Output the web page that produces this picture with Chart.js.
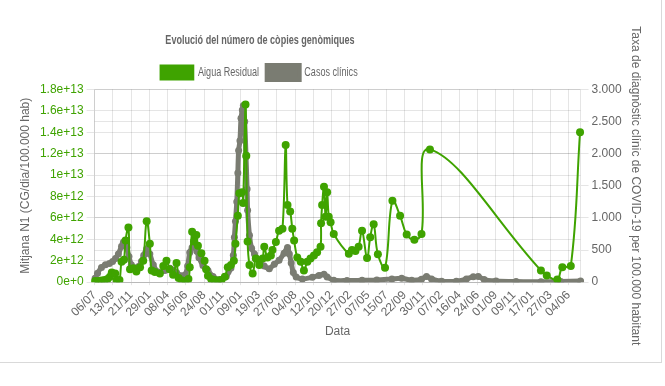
<!DOCTYPE html>
<html>
<head>
<meta charset="utf-8">
<script src="https://cdn.jsdelivr.net/npm/chart.js@4"></script>
<style>
  html, body { margin: 0; padding: 0; background: #fff; }
  #wrap { width: 661px; height: 362px; border-right: 1px solid #d9d9d9; border-bottom: 1px solid #d9d9d9; position: relative; }
</style>
</head>
<body>
<div id="wrap"><canvas id="c"></canvas></div>
<script>
// ---- Data ----
const firstDay = '2020-07-06';
const lastDay = '2025-07-19';
const tickEveryDays = 69;

// Wastewater: mean N1 (units of 1e12 genomic copies / day / 100.000 hab)
const wasteDates = [
  '2020-07-08','2020-07-21','2020-08-01','2020-08-13','2020-08-24','2020-09-02','2020-09-09','2020-09-22','2020-09-27','2020-10-08',
  '2020-10-16','2020-10-25','2020-10-31','2020-11-11','2020-11-17','2020-11-30','2020-12-11','2020-12-25','2021-01-06','2021-01-19',
  '2021-01-31','2021-02-07','2021-02-19','2021-03-10','2021-03-23','2021-04-04','2021-04-16','2021-04-29','2021-05-12','2021-05-20',
  '2021-06-02','2021-06-15','2021-06-26','2021-07-01','2021-07-10','2021-07-17','2021-07-26','2021-08-01','2021-08-14','2021-08-26',
  '2021-09-01','2021-09-08','2021-09-20','2021-10-02','2021-10-15','2021-10-29','2021-11-11','2021-11-22','2021-12-04','2021-12-15',
  '2021-12-21','2021-12-30','2022-01-05','2022-01-15','2022-01-19','2022-01-28','2022-01-31','2022-02-05','2022-02-12','2022-02-24',
  '2022-03-08','2022-03-21','2022-04-03','2022-04-09','2022-04-21','2022-05-04','2022-05-10','2022-05-23','2022-06-04','2022-06-17',
  '2022-06-29','2022-07-06','2022-07-16','2022-07-24','2022-07-31','2022-08-12','2022-08-25','2022-09-06','2022-09-19','2022-10-01',
  '2022-10-14','2022-10-26','2022-11-08','2022-11-10','2022-11-14','2022-11-21','2022-11-27','2022-12-03','2022-12-09','2022-12-16',
  '2022-12-28','2023-02-23','2023-03-07','2023-03-20','2023-04-01','2023-04-14','2023-05-03','2023-05-15','2023-05-28','2023-06-13',
  '2023-07-10','2023-08-07','2023-09-05','2023-09-30','2023-10-29','2023-11-25','2023-12-27','2025-02-19','2025-03-13','2025-04-22',
  '2025-05-11','2025-06-12','2025-07-17'
];
const wasteValues = [
  0.1, 0.1, 0.15, 0.2, 0.3, 0.5, 0.9, 0.8, 0.2, 0.2,
  1.9, 2.1, 3.9, 5.1, 1.2, 1.3, 1.0, 1.4, 2.0, 5.7,
  3.6, 1.1, 0.95, 0.8, 1.5, 2.0, 1.2, 0.7, 1.8, 0.4,
  0.15, 0.1, 0.3, 1.4, 4.7, 3.8, 4.4, 3.4, 2.7, 2.0,
  1.2, 0.6, 0.3, 0.2, 0.15, 0.2, 0.5, 1.4, 1.6, 2.0,
  3.6, 6.2, 8.3, 8.4, 7.4, 16.6, 11.8, 3.8, 1.6, 0.8,
  2.2, 1.6, 2.2, 3.3, 2.3, 2.5, 3.0, 3.75, 4.8, 5.0,
  12.8, 7.2, 6.6, 5.0, 3.9, 2.3, 1.9, 1.1, 1.9, 2.2,
  2.5, 2.8, 3.3, 5.5, 7.2, 8.9, 6.1, 8.4, 6.1, 5.6,
  4.5, 2.65, 3.0, 2.9, 3.3, 4.8, 2.25, 4.2, 5.4, 2.6,
  1.35, 7.6, 6.2, 4.45, 3.97, 4.5, 12.4, 1.1, 0.63, 0.25,
  1.4, 1.5, 14.0
];
const wasteUnit = 1e12;

// Clinical cases: diagnosis rate per 100.000 inhabitants
const caseDates = [
  '2020-07-08','2020-07-17','2020-08-01','2020-08-16','2020-08-31','2020-09-12','2020-09-23','2020-10-04','2020-10-16','2020-10-23',
  '2020-10-29','2020-11-05','2020-11-13','2020-11-22','2020-12-06','2020-12-18','2020-12-30','2021-01-08','2021-01-19','2021-01-31',
  '2021-02-13','2021-03-04','2021-03-29','2021-04-17','2021-04-29','2021-05-12','2021-05-30','2021-06-13','2021-06-23','2021-07-01',
  '2021-07-10','2021-07-19','2021-07-28','2021-08-05','2021-08-20','2021-09-08','2021-09-27','2021-10-22','2021-11-16','2021-12-04',
  '2021-12-13','2021-12-17','2021-12-21','2021-12-26','2021-12-30','2022-01-02','2022-01-07','2022-01-11','2022-01-16','2022-01-20',
  '2022-01-25','2022-01-30','2022-02-03','2022-02-05','2022-02-12','2022-02-20','2022-03-03','2022-03-21','2022-04-09','2022-04-28',
  '2022-05-17','2022-06-04','2022-06-23','2022-07-06','2022-07-13','2022-07-20','2022-07-28','2022-08-08','2022-08-31','2022-10-08',
  '2022-11-02','2022-11-21','2022-12-03','2022-12-28','2023-02-16','2023-04-14','2023-06-09','2023-08-05','2023-09-11','2023-10-19',
  '2023-11-25','2023-12-14','2024-01-02','2024-02-09','2024-04-05','2024-05-13','2024-06-08','2024-06-27','2024-07-19','2024-09-02',
  '2024-11-17','2025-02-19','2025-05-05','2025-07-19'
];
const caseValues = [
  60, 140, 230, 270, 290, 320, 370, 440, 560, 620,
  630, 540, 400, 270, 210, 240, 320, 420, 520, 440,
  270, 160, 180, 215, 190, 150, 100, 110, 250, 460,
  540, 560, 480, 380, 260, 180, 90, 40, 90, 220,
  420, 700, 950, 1250, 1700, 2050, 2200, 2550, 2680, 2750,
  2500, 1950, 1450, 1120, 730, 530, 440, 330, 250, 210,
  280, 340, 450, 540, 440, 300, 150, 80, 50, 75,
  105, 125, 80, 30, 25, 30, 35, 50, 60, 30,
  45, 90, 50, 15, 15, 50, 85, 90, 40, 20,
  10, 5, 10, 20
];

// ---- Build ----
const labels = [];
for (let t = Date.parse(firstDay + 'T00:00:00Z'); t <= Date.parse(lastDay + 'T00:00:00Z'); t += 86400000) {
  labels.push(new Date(t).toISOString().slice(0, 10));
}
const green = '#3fa300';
const gray = '#7a7c72';
const wastePoints = wasteDates.map((d, i) => ({ x: d, y: wasteValues[i] * wasteUnit }));
const casePoints = caseDates.map((d, i) => ({ x: d, y: caseValues[i] }));
const dotThousands = v => String(v).replace(/\B(?=(\d{3})+(?!\d))/g, '.');

Chart.defaults.font.family = 'Arial, "Liberation Sans", sans-serif';
Chart.defaults.font.size = 12;
Chart.defaults.color = '#666';

const SQ = 0.755; // horizontal squeeze used for title and legend text

const chart = new Chart(document.getElementById('c'), {
  type: 'line',
  data: {
    labels: labels,
    datasets: [
      {
        label: 'Aigua Residual',
        data: wastePoints,
        yAxisID: 'y',
        borderColor: green,
        backgroundColor: green,
        borderWidth: 2,
        pointRadius: 4,
        pointBorderWidth: 0,
        pointBackgroundColor: green,
        tension: 0.4,
        spanGaps: true
      },
      {
        label: 'Casos clínics',
        data: casePoints,
        yAxisID: 'y1',
        borderColor: gray,
        backgroundColor: gray,
        borderWidth: 5,
        pointRadius: 3.5,
        pointBorderWidth: 0,
        pointBackgroundColor: gray,
        tension: 0.3,
        spanGaps: true
      }
    ]
  },
  options: {
    responsive: true,
    maintainAspectRatio: false,
    animation: false,
    layout: { padding: { top: 20, left: 14.5, right: 14, bottom: 19 } },
    plugins: {
      title: {
        display: true,
        text: 'Evolució del número de còpies genòmiques',
        color: '#666',
        font: { size: 12, weight: 'bold' },
        padding: { top: 13, bottom: 8 }
      },
      legend: {
        labels: {
          boxWidth: Math.round(33 / SQ),
          boxHeight: 14,
          color: '#666',
          padding: 10,
          font: { size: 12 }
        }
      },
      tooltip: { enabled: false }
    },
    scales: {
      x: {
        type: 'category',
        offset: false,
        title: { display: true, text: 'Data', color: '#666', padding: { top: 2, bottom: 4 } },
        afterBuildTicks: scale => { scale.ticks = scale.ticks.filter(t => t.value % tickEveryDays === 0); },
        ticks: {
          autoSkip: false,
          minRotation: 45,
          maxRotation: 45,
          color: '#666',
          callback: function (v) { const s = this.getLabelForValue(v); return s.slice(8, 10) + '/' + s.slice(5, 7); }
        },
        grid: { color: 'rgba(0,0,0,0.1)', tickLength: 3 }
      },
      y: {
        position: 'left',
        min: 0,
        max: 1.8e13,
        title: { display: true, text: 'Mitjana N1 (CG/dia/100.000 hab)', color: '#666' },
        ticks: { stepSize: 2e12, color: green, callback: v => Number(v).toExponential() },
        grid: { color: 'rgba(0,0,0,0.1)' }
      },
      y1: {
        position: 'right',
        min: 0,
        max: 3000,
        title: { display: true, text: 'Taxa de diagnòstic clínic de COVID-19 per 100.000 habitant', color: '#666' },
        ticks: { stepSize: 500, color: '#666', callback: v => dotThousands(v) },
        grid: { color: 'rgba(0,0,0,0.1)' }
      }
    }
  }
});

// Title and legend in the reference use a condensed face; squeeze them horizontally.
function squeeze(box, targetCx, sx) {
  if (!box) return;
  const orig = box.draw.bind(box);
  box.draw = function (area) {
    const ctx = this.ctx;
    const cx = (this.left + this.right) / 2;
    ctx.save();
    ctx.translate(targetCx, 0);
    ctx.scale(sx, 1);
    ctx.translate(-cx, 0);
    orig(area);
    ctx.restore();
  };
}
squeeze(chart.titleBlock, 260, SQ);
squeeze(chart.legend, 259, SQ);
chart.draw();
</script>
</body>
</html>
